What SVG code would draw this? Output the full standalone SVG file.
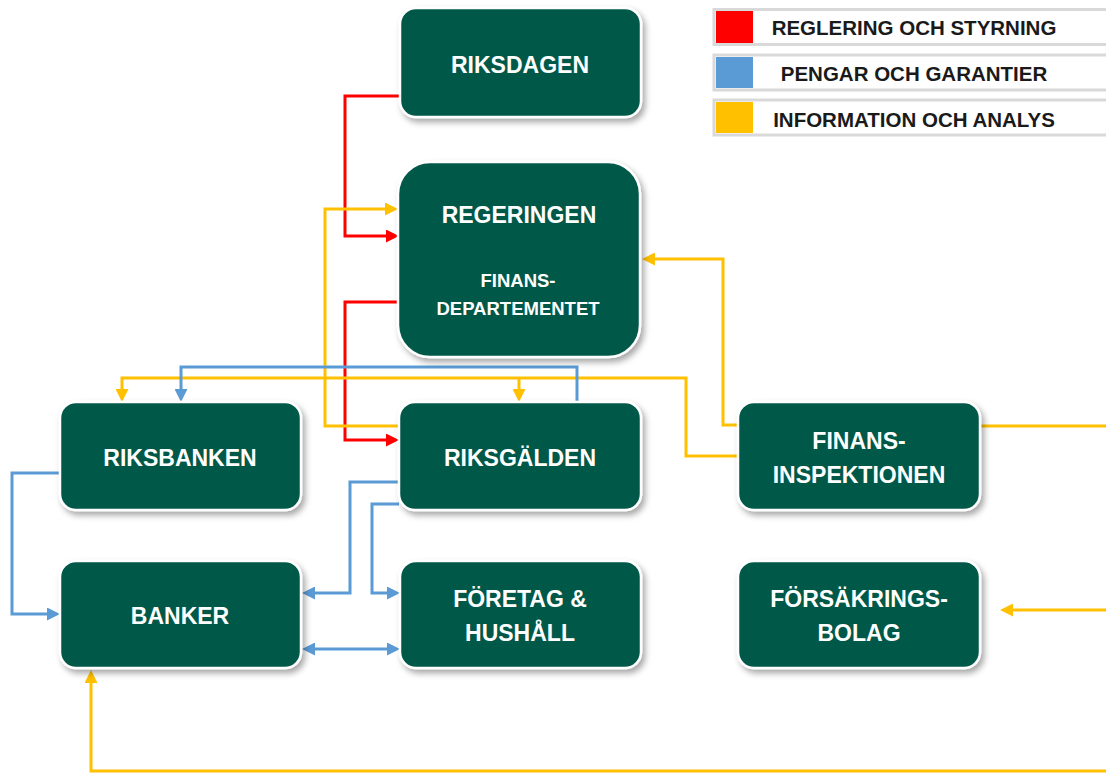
<svg xmlns="http://www.w3.org/2000/svg" width="1106" height="774" viewBox="0 0 1106 774">
<style>
.node rect{fill:#02594A;stroke:#ffffff;stroke-width:2.5;filter:url(#sh)}
.node text{fill:#ffffff;font-family:"Liberation Sans",Arial,sans-serif;font-weight:bold;font-size:23px;text-anchor:middle}
.node text.small{font-size:18.5px}
.c{fill:none;stroke-width:3;stroke-linejoin:miter}
.r{stroke:#FF0000}
.b{stroke:#5B9BD5}
.o{stroke:#FFC000}
.r.a{marker-end:url(#ar)}
.b.a{marker-end:url(#ab)}
.o.a{marker-end:url(#ao)}
.leg rect.box{fill:#ffffff;stroke:#d9d9d9;stroke-width:3}
.leg text{fill:#1a1a1a;font-family:"Liberation Sans",Arial,sans-serif;font-weight:bold;font-size:20.5px;text-anchor:middle}
</style>
<defs>
<filter id="sh" x="-20%" y="-20%" width="140%" height="150%">
<feDropShadow dx="3" dy="4" stdDeviation="3" flood-color="#000" flood-opacity="0.35"/>
</filter>
<marker id="ar" viewBox="0 0 13 13" markerWidth="13" markerHeight="13" refX="3" refY="6.5" orient="auto-start-reverse" markerUnits="userSpaceOnUse"><path d="M0,0 L13,6.5 L0,13 z" fill="#FF0000"/></marker>
<marker id="ab" viewBox="0 0 13 13" markerWidth="13" markerHeight="13" refX="3" refY="6.5" orient="auto-start-reverse" markerUnits="userSpaceOnUse"><path d="M0,0 L13,6.5 L0,13 z" fill="#5B9BD5"/></marker>
<marker id="ao" viewBox="0 0 13 13" markerWidth="13" markerHeight="13" refX="3" refY="6.5" orient="auto-start-reverse" markerUnits="userSpaceOnUse"><path d="M0,0 L13,6.5 L0,13 z" fill="#FFC000"/></marker>
</defs>
<rect width="1106" height="774" fill="#ffffff"/>

<g id="legend" class="leg">
<rect class="box" x="714" y="9.5" width="400" height="35"/>
<rect x="716" y="11" width="37" height="32" fill="#FF0000"/>
<text x="914" y="35">REGLERING OCH STYRNING</text>
<rect class="box" x="714" y="55" width="400" height="35"/>
<rect x="716" y="57" width="37" height="31" fill="#5B9BD5"/>
<text x="914" y="81">PENGAR OCH GARANTIER</text>
<rect class="box" x="714" y="100" width="400" height="35"/>
<rect x="716" y="102" width="37" height="31" fill="#FFC000"/>
<text x="914" y="127">INFORMATION OCH ANALYS</text>
</g>

<g id="connectors">
<path class="c r a" d="M399,96 H345 V236 H389"/>
<path class="c r a" d="M398,302 H345 V440 H389"/>
<path class="c o a" d="M399,426 H325 V209 H388"/>
<path class="c o a" d="M738,425 H723 V259 H652"/>
<path class="c o a" d="M738,456 H686 V378 H122 V392"/>
<path class="c o a" d="M519,378 V392"/>
<path class="c b a" d="M577,402 V367 H181 V392"/>
<path class="c b a" d="M60,473 H12 V614 H50"/>
<path class="c b a" d="M399,482 H350 V593 H312"/>
<path class="c b a" d="M399,504 H372 V593 H390"/>
<path class="c b a" d="M312,649 H390" marker-start="url(#ab)"/>
<path class="c o" d="M981,426 H1106"/>
<path class="c o a" d="M1106,771 H91 V680"/>
<path class="c o a" d="M1106,610 H1010"/>
</g>

<g id="riksdagen" class="node">
<rect x="400" y="8" width="241" height="109" rx="16"/>
<text x="520" y="73">RIKSDAGEN</text>
</g>
<g id="regeringen" class="node">
<rect x="398" y="162" width="242" height="195" rx="32"/>
<text x="519" y="223">REGERINGEN</text>
<text class="small" x="518" y="287">FINANS-</text>
<text class="small" x="518" y="315">DEPARTEMENTET</text>
</g>
<g id="riksbanken" class="node">
<rect x="60" y="402" width="241" height="108" rx="16"/>
<text x="180" y="466">RIKSBANKEN</text>
</g>
<g id="riksgalden" class="node">
<rect x="399" y="402" width="242" height="108" rx="16"/>
<text x="520" y="466">RIKSGÄLDEN</text>
</g>
<g id="finansinspektionen" class="node">
<rect x="738" y="402" width="242" height="108" rx="16"/>
<text x="859" y="449">FINANS-</text>
<text x="859" y="483">INSPEKTIONEN</text>
</g>
<g id="banker" class="node">
<rect x="60" y="561" width="241" height="107" rx="16"/>
<text x="180" y="624">BANKER</text>
</g>
<g id="foretag" class="node">
<rect x="400" y="561" width="241" height="107" rx="16"/>
<text x="520" y="607">FÖRETAG &amp;</text>
<text x="520" y="641">HUSHÅLL</text>
</g>
<g id="forsakringsbolag" class="node">
<rect x="738" y="561" width="242" height="107" rx="16"/>
<text x="859" y="607">FÖRSÄKRINGS-</text>
<text x="859" y="641">BOLAG</text>
</g>
</svg>
